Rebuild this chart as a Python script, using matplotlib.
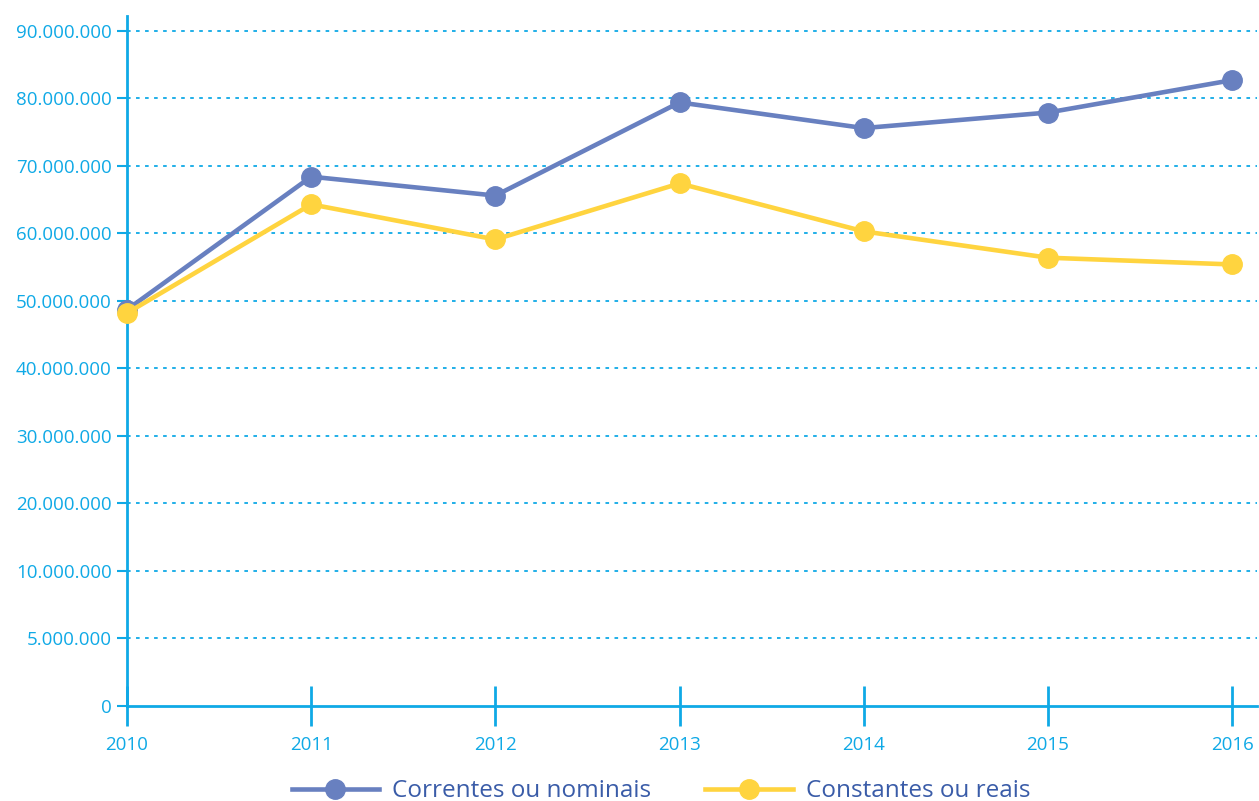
import matplotlib
matplotlib.use("Agg")
import matplotlib.pyplot as plt
import numpy as np

plt.rcParams['font.family'] = ['Open Sans', 'DejaVu Sans']

anos = [2010, 2011, 2012, 2013, 2014, 2015, 2016]
correntes = [48.7e6, 68.4e6, 65.6e6, 79.4e6, 75.6e6, 77.9e6, 82.7e6]
constantes = [48.2e6, 64.3e6, 59.1e6, 67.4e6, 60.3e6, 56.4e6, 55.4e6]
y_ticks = [0, 5e6, 10e6, 20e6, 30e6, 40e6, 50e6, 60e6, 70e6, 80e6, 90e6]
y_labels = ['0', '5.000.000', '10.000.000', '20.000.000', '30.000.000',
            '40.000.000', '50.000.000', '60.000.000', '70.000.000',
            '80.000.000', '90.000.000']

CIANO = '#0fa9e6'
AZUL = '#6880c0'
AMARELO = '#ffd43f'

# eixo y: primeiros dois intervalos valem 5 milhoes, os demais 10 milhoes
def fwd(v):
    v = np.asarray(v, dtype=float)
    return np.where(v <= 10e6, v / 5e6, 1 + v / 10e6)

def inv(u):
    u = np.asarray(u, dtype=float)
    return np.where(u <= 2, u * 5e6, (u - 1) * 10e6)

fig = plt.figure(figsize=(12.59, 8.01), dpi=100)
ax = fig.add_axes([127/1259, 95/801, 1130/1259, 690/801])
ax.set_yscale('function', functions=(fwd, inv))

ax.plot(anos, correntes, color=AZUL, lw=3.3, marker='o', ms=14,
        label='Correntes ou nominais', zorder=3, clip_on=False)
ax.plot(anos, constantes, color=AMARELO, lw=3.3, marker='o', ms=14,
        label='Constantes ou reais', zorder=4, clip_on=False)

ax.set_xlim(2010, 2016.135)
ax.set_ylim(0, inv(10.22))
ax.set_xticks(anos)
ax.set_yticks(y_ticks)
ax.set_yticklabels(y_labels)
ax.yaxis.set_minor_locator(matplotlib.ticker.NullLocator())

for v in y_ticks[1:]:
    ax.axhline(v, color=CIANO, lw=1.3, ls=(0, (2, 3)), zorder=1)

for s in ['top', 'right']:
    ax.spines[s].set_visible(False)
for s in ['left', 'bottom']:
    ax.spines[s].set_color(CIANO)
    ax.spines[s].set_linewidth(2)

ax.tick_params(axis='x', direction='inout', length=29, width=2, color=CIANO,
               labelcolor=CIANO, labelsize=13.5, pad=7)
ax.tick_params(axis='y', direction='out', length=7, width=1.5, color=CIANO,
               labelcolor=CIANO, labelsize=13.5, pad=4)

fig.legend(loc='center', bbox_to_anchor=(0.525, 0.012), ncol=2, frameon=False,
           fontsize=17.5, labelcolor='#3a5ca8', handlelength=3.6,
           columnspacing=2.2, handletextpad=0.55)

fig.savefig('out.png', dpi=100, facecolor='white')
